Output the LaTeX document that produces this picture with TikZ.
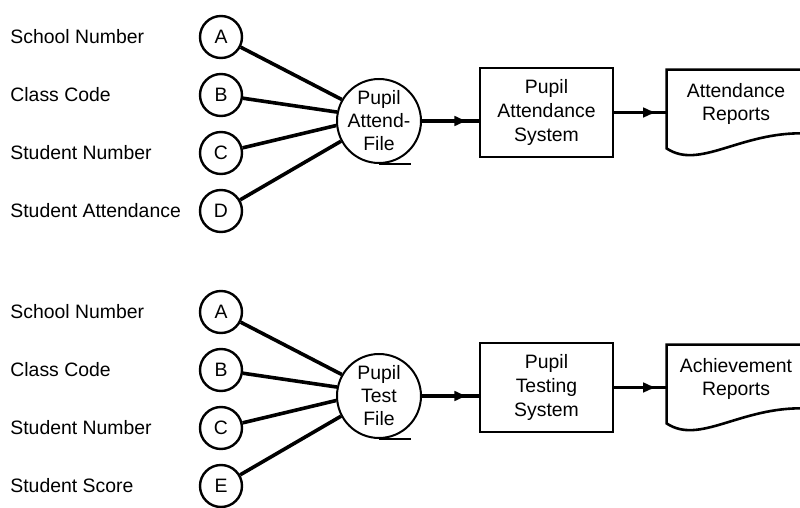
\documentclass[tikz,border=0pt]{standalone}
\usepackage{fontspec}
\setmainfont{Liberation Sans}
\usetikzlibrary{positioning,arrows.meta,decorations.markings}
\newcommand\dy{29pt}
\newcommand\lsx{105.5pt}
\newcommand\fdx{79pt}
\newcommand\fdy{42pt}
\newcommand\bdx{83.75pt}
\newcommand\bdy{4.25pt}
\newcommand\ddx{94.75pt}
\newcommand\ddy{4.25pt}
\newcommand\rowgap{137.5pt}

\begin{document}
\begin{tikzpicture}[
  on grid,
  font=\fontsize{9.7}{11.5}\selectfont,
  lbl/.style={inner sep=0pt, anchor=west},
  src/.style={circle, draw, line width=1.2pt, minimum size=21pt, inner sep=0pt},
  tape/.style={circle, draw, line width=1pt, minimum size=42pt, inner sep=-3pt, align=center},
  proc/.style={rectangle, draw, line width=1.3pt, minimum width=66.5pt, minimum height=44.5pt,
    inner sep=0pt, align=center, font=\fontsize{9.7}{12}\selectfont},
  doc/.style={minimum width=69pt, minimum height=34pt, inner sep=0pt, align=center},
  spoke/.style={line width=1.8pt},
  flow/.style={line width=1.6pt, postaction={decorate},
    decoration={markings, mark=at position 0.82 with {\arrow{Latex[length=7pt,width=5.5pt]}}}},
  docline/.style={line width=1.3pt},
]
  \useasboundingbox (0,0) rectangle (400pt,-254pt);
  % attendance run: data elements
  \node[src] (a1) at (110.5pt,-18.5pt) {A};
  \node[src, below=\dy of a1] (b1) {B};
  \node[src, below=\dy of b1] (c1) {C};
  \node[src, below=\dy of c1] (d1) {D};
  \node[left=\lsx of a1, lbl] (sn1) {School Number};
  \node[left=\lsx of b1, lbl] (cc1) {Class Code};
  \node[left=\lsx of c1, lbl] (st1) {Student Number};
  \node[left=\lsx of d1, lbl] (sa1) {Student Attendance};
  % attendance run: file, system, report
  \node[tape, below right=\fdy and \fdx of a1] (f1) {Pupil\\Attend-\\File};
  \node[proc, above right=\bdy and \bdx of f1] (p1) {Pupil\\Attendance\\System};
  \node[doc, above right=\ddy and \ddx of p1] (r1) {Attendance\\Reports};

  % testing run: data elements
  \node[src, below=\rowgap of a1] (a2) {A};
  \node[src, below=\dy of a2] (b2) {B};
  \node[src, below=\dy of b2] (c2) {C};
  \node[src, below=\dy of c2] (e2) {E};
  \node[left=\lsx of a2, lbl] (sn2) {School Number};
  \node[left=\lsx of b2, lbl] (cc2) {Class Code};
  \node[left=\lsx of c2, lbl] (st2) {Student Number};
  \node[left=\lsx of e2, lbl] (ss2) {Student Score};
  % testing run: file, system, report
  \node[tape, below right=\fdy and \fdx of a2] (f2) {Pupil\\Test\\File};
  \node[proc, above right=\bdy and \bdx of f2] (p2) {Pupil\\Testing\\System};
  \node[doc, above right=\ddy and \ddx of p2] (r2) {Achievement\\Reports};

  % spokes into the files
  \draw[spoke] (a1) -- (f1.150);
  \draw[spoke] (b1) -- (f1.168);
  \draw[spoke] (c1) -- (f1.186);
  \draw[spoke] (d1) -- (f1.208);
  \draw[spoke] (a2) -- (f2.150);
  \draw[spoke] (b2) -- (f2.168);
  \draw[spoke] (c2) -- (f2.186);
  \draw[spoke] (e2) -- (f2.208);
  % tape tails
  \draw[line width=1pt] (f1.south) -- ++(16pt,0);
  \draw[line width=1pt] (f2.south) -- ++(16pt,0);
  % flows
  \draw[flow] (f1.east) -- (f1.east -| p1.west);
  \draw[flow] (p1.east) -- (p1.east -| r1.west);
  \draw[flow] (f2.east) -- (f2.east -| p2.west);
  \draw[flow] (p2.east) -- (p2.east -| r2.west);
  % report outlines
  \draw[docline] (r1.north east) -- (r1.north west) -- ([yshift=-5pt]r1.south west)
    .. controls +(16.5pt,-11pt) and +(-32.5pt,1pt) .. ([yshift=2.5pt]r1.south east) -- cycle;
  \draw[docline] (r2.north east) -- (r2.north west) -- ([yshift=-5pt]r2.south west)
    .. controls +(16.5pt,-11pt) and +(-32.5pt,1pt) .. ([yshift=2.5pt]r2.south east) -- cycle;
\end{tikzpicture}
\end{document}
